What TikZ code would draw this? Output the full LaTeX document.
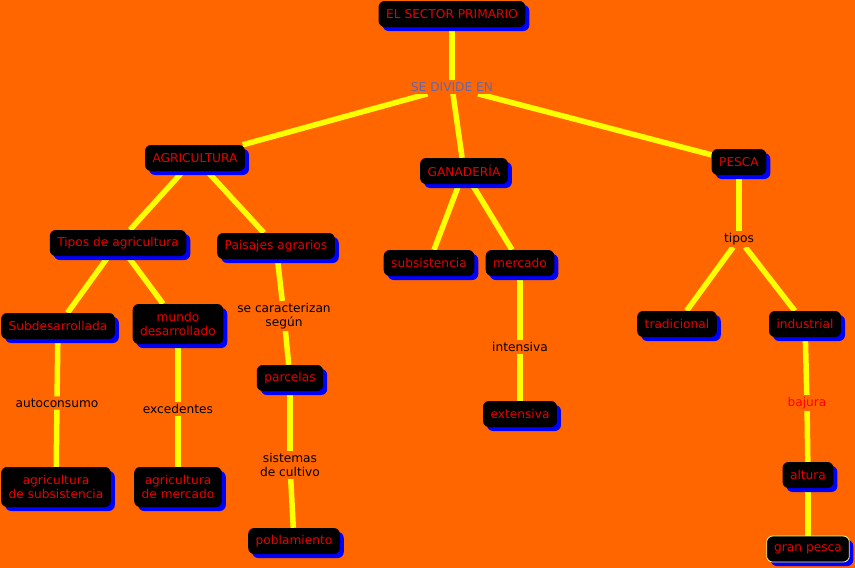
\documentclass[tikz,border=0pt]{standalone}
\usepackage{fontspec}
\setmainfont{DejaVu Sans}
\usetikzlibrary{shadows}
\pgfdeclarelayer{background}
\pgfsetlayers{background,main}
\definecolor{bg}{HTML}{FF6600}
\definecolor{linkcol}{HTML}{FFFF00}
\definecolor{txtred}{HTML}{E80000}
\definecolor{divcol}{HTML}{6666AA}
\begin{document}
\begin{tikzpicture}[x=1pt,y=-1pt,
  concept/.style={fill=black, rounded corners=6pt, text=txtred,
    font=\fontsize{12.2}{14}\selectfont, minimum height=26pt, inner xsep=7.5pt,
    align=center,
    drop shadow={shadow xshift=4pt, shadow yshift=-4pt, fill=blue, opacity=1}},
  tall/.style={minimum height=40pt},
  lab/.style={fill=bg, text=black, font=\fontsize{12.2}{14}\selectfont,
    inner sep=2pt, align=center},
  link/.style={draw=linkcol, line width=5.5pt}]
\useasboundingbox (0,0) rectangle (855,568);

% concepts
\node[concept] (sector) at (452,14) {EL SECTOR PRIMARIO};
\node[lab, text=divcol] (divide) at (452,87) {SE DIVIDE EN};
\node[concept] (agri) at (195,158) {AGRICULTURA};
\node[concept] (gana) at (464,171) {GANADERÍA};
\node[concept] (pesca) at (739,162) {PESCA};
\node[concept] (tiposag) at (118,243) {Tipos de agricultura};
\node[concept] (paisajes) at (276,246) {Paisajes agrarios};
\node[concept] (subs) at (429,263) {subsistencia};
\node[concept] (merc) at (520,263) {mercado};
\node[lab] (tipos) at (739,239) {tipos};
\node[concept] (subdes) at (58,326) {Subdesarrollada};
\node[concept, tall] (mundo) at (178,324) {mundo\\desarrollado};
\node[lab] (caract) at (284,316) {se caracterizan\\según};
\node[concept] (parcelas) at (290,378) {parcelas};
\node[lab] (intens) at (520,347) {intensiva};
\node[concept] (extens) at (520,414) {extensiva};
\node[concept] (trad) at (677,324) {tradicional};
\node[concept] (indus) at (805,324) {industrial};
\node[lab] (autoc) at (57,403) {autoconsumo};
\node[lab] (exced) at (178,409) {excedentes};
\node[lab, text=red] (bajura) at (807,403) {bajura};
\node[concept, tall] (agsub) at (56,487) {agricultura\\de subsistencia};
\node[concept, tall] (agmer) at (178,487) {agricultura\\de mercado};
\node[lab] (sistemas) at (290,465) {sistemas\\de cultivo};
\node[concept] (altura) at (808,475) {altura};
\node[concept] (poblam) at (294,541) {poblamiento};
\node[concept, draw=yellow!50!white, line width=0.8pt] (gran) at (808,549) {gran pesca};

\begin{pgfonlayer}{background}
\fill[bg] (0,0) rectangle (855,568);
\draw[link] (sector) -- (divide);
\draw[link] (divide) -- (agri);
\draw[link] (divide) -- (gana);
\draw[link] (divide) -- (pesca);
\draw[link] (agri) -- (tiposag);
\draw[link] (agri) -- (paisajes);
\draw[link] (tiposag) -- (subdes);
\draw[link] (tiposag) -- (mundo);
\draw[link] (paisajes) -- (caract);
\draw[link] (caract) -- (parcelas);
\draw[link] (parcelas) -- (sistemas);
\draw[link] (sistemas) -- (poblam);
\draw[link] (gana) -- (subs);
\draw[link] (gana) -- (merc);
\draw[link] (merc) -- (intens);
\draw[link] (intens) -- (extens);
\draw[link] (pesca) -- (tipos);
\draw[link] (tipos) -- (trad);
\draw[link] (tipos) -- (indus);
\draw[link] (subdes) -- (autoc);
\draw[link] (autoc) -- (agsub);
\draw[link] (mundo) -- (exced);
\draw[link] (exced) -- (agmer);
\draw[link] (indus) -- (bajura);
\draw[link] (bajura) -- (altura);
\draw[link] (altura) -- (gran);
\end{pgfonlayer}
\end{tikzpicture}
\end{document}
